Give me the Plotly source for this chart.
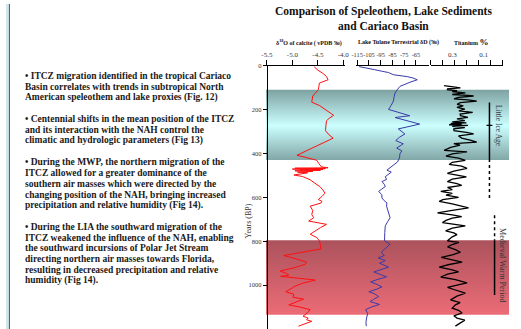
import plotly.graph_objects as go
import numpy as np

W, H = 521, 329
FONT = "Liberation Serif, Times New Roman, serif"

# ---------------- data ----------------
# Speleothem delta18O (calcite, vPDB permil) vs years BP
d18o_years = [5, 20, 35, 49, 64, 79, 95, 109, 125, 138, 152, 166, 181, 200, 215, 226, 240, 251, 270, 296,
              315, 330, 350, 370, 390, 408, 420, 431, 446, 461, 465, 467, 469, 471, 473, 475, 477, 479, 482,
              485, 488, 491, 494, 498, 505, 512, 520, 535, 551, 566, 581, 596, 610, 618, 626, 640, 660, 678,
              693, 708, 716, 723, 738, 755, 768, 783, 798, 815, 835, 850, 865, 872, 880, 895, 905, 920, 936,
              946, 955, 960, 968, 977, 990, 1005, 1020, 1030, 1042, 1055, 1064, 1078, 1090, 1100, 1112, 1125,
              1142, 1150, 1158, 1165, 1175, 1187]
d18o_vals = [-4.57, -4.50, -4.40, -4.33, -4.30, -4.47, -4.48, -4.49, -4.55, -4.60, -4.61, -4.62, -4.47, -4.36,
             -4.26, -4.19, -4.28, -4.33, -4.34, -4.35, -4.28, -4.20, -4.38, -4.57, -4.75, -4.91, -4.70, -4.52,
             -4.48, -4.43, -4.30, -4.95, -4.35, -5.00, -4.40, -4.85, -4.45, -4.95, -4.60, -4.90, -4.70, -4.81,
             -4.95, -4.97, -4.80, -4.72, -4.65, -4.56, -4.46, -4.40, -4.36, -4.42, -4.49, -4.42, -4.44, -4.65,
             -4.60, -4.62, -4.58, -4.68, -4.50, -4.33, -4.45, -4.55, -4.65, -4.52, -4.47, -4.45, -4.44, -4.80,
             -5.17, -5.05, -4.94, -4.72, -4.75, -4.95, -5.24, -5.12, -5.07, -5.23, -4.90, -4.55, -4.78, -4.95,
             -5.05, -5.13, -4.97, -4.99, -4.78, -4.95, -5.07, -4.85, -4.65, -4.70, -4.79, -4.69, -4.72, -4.62,
             -4.75, -4.88]

# Lake Tulane terrestrial deltaD (permil)
dD_years = [4, 11, 18, 25, 31, 41, 46, 50, 56, 64, 75, 94, 110, 124, 140, 161, 180, 199, 228, 236, 266, 288,
            311, 326, 341, 356, 375, 388, 401, 420, 438, 458, 476, 485, 495, 506, 518, 528, 540, 551, 562, 573,
            588, 603, 615, 625, 640, 660, 675, 693, 710, 730, 760, 798, 813, 830, 850, 865, 876, 888, 900, 918,
            930, 940, 952, 962, 975, 985, 997, 1008, 1020, 1030, 1040, 1052, 1065, 1075, 1088, 1100, 1112, 1130,
            1150, 1170, 1187]
dD_vals = [-113.3, -107.8, -100, -94, -88.3, -84.2, -74.4, -72, -67.5, -63.9, -70, -78.6, -81, -82.8, -83.5,
           -84.2, -86, -88.3, -70.3, -82.8, -61.9, -80, -74.4, -79, -82.2, -75.8, -81.4, -77, -78.6, -79, -80.6,
           -85, -89.7, -86, -88, -91.1, -90, -93.9, -92, -91.1, -94, -96.7, -94, -93.9, -92, -89.7, -90, -89,
           -88, -87, -89, -91.1, -91.5, -91.7, -87, -90, -94.4, -92, -97, -91.1, -96, -88.3, -95, -100.8, -95,
           -90, -98, -103.6, -98, -93.9, -99, -105, -100, -96.7, -101, -104, -96, -103, -107.8, -106, -107,
           -107.5, -107.2]

# Cariaco Basin titanium (%)
ti_years = [91, 96, 101, 105, 109, 114, 118, 124, 128, 131, 135, 138, 144, 151, 156, 161, 168, 176, 183, 190,
            198, 206, 213, 220, 228, 235, 242, 250, 256, 260, 263, 266, 269, 272, 276, 282, 288, 296, 304, 311,
            320, 330, 340, 348, 355, 362, 372, 386, 393, 402, 412, 421, 431, 440, 450, 458, 468, 480, 491, 500,
            507, 517, 528, 537, 545, 555, 565, 573, 582, 590, 600, 610, 618, 630, 640, 648, 660, 671, 680, 688,
            695, 705, 715, 722, 730, 740, 753, 762, 770, 780, 790, 798, 805, 815, 826, 838, 850, 862, 873, 884,
            895, 906, 918, 930, 940, 950, 963, 975, 990, 1000, 1010, 1020, 1030, 1037, 1050, 1067, 1080, 1090,
            1105, 1115, 1127, 1140, 1150, 1160, 1172, 1187]
ti_vals = [0.352, 0.30, 0.248, 0.33, 0.331, 0.27, 0.30, 0.217, 0.29, 0.30, 0.20, 0.164, 0.26, 0.289, 0.20,
           0.144, 0.25, 0.269, 0.23, 0.27, 0.22, 0.258, 0.17, 0.25, 0.248, 0.20, 0.27, 0.22, 0.30, 0.21, 0.31,
           0.24, 0.32, 0.20, 0.30, 0.22, 0.29, 0.289, 0.21, 0.164, 0.26, 0.24, 0.18, 0.144, 0.29, 0.25, 0.31,
           0.352, 0.206, 0.30, 0.34, 0.26, 0.217, 0.30, 0.32, 0.24, 0.206, 0.29, 0.331, 0.26, 0.21, 0.30, 0.331,
           0.27, 0.24, 0.33, 0.30, 0.373, 0.30, 0.34, 0.26, 0.36, 0.383, 0.30, 0.25, 0.196, 0.31, 0.394, 0.30,
           0.24, 0.30, 0.34, 0.3625, 0.28, 0.217, 0.30, 0.342, 0.29, 0.27, 0.30, 0.32, 0.331, 0.258, 0.30, 0.33,
           0.28, 0.248, 0.30, 0.37, 0.30, 0.2375, 0.32, 0.383, 0.30, 0.26, 0.33, 0.373, 0.28, 0.206, 0.27, 0.33,
           0.29, 0.24, 0.217, 0.27, 0.311, 0.25, 0.28, 0.30, 0.26, 0.2375, 0.29, 0.27, 0.22, 0.248, 0.28]

# climate periods (years BP)
lia_band = [110, 430]
mwp_band = [795, 1135]
lia_marker = {"solid": [168, 425], "dotted": [425, 604], "tick": 272}
mwp_marker = {"dotted": [681, 798], "solid": [798, 1045]}

year_ticks = [0, 200, 400, 600, 800, 1000, 1200]
d18o_ticks = [-5.5, -5.0, -4.5, -4.0]
d18o_labels = ["-5.5", "-5.0", "-4.5", "-4.0"]
dD_ticks = [-115, -105, -95, -85, -75, -65]
dD_labels = ["-115", "-105", "-95", "-85", "-75", "-65"]
ti_ticks = [0.3, 0.1]
ti_labels = ["0.3", "0.1"]

text_paras = [
    ["• ITCZ migration identified in the tropical Cariaco",
     "Basin correlates with trends in subtropical North",
     "American speleothem and lake proxies (Fig. 12)"],
    ["• Centennial shifts in the mean position of the ITCZ",
     "and its interaction with the NAH control the",
     "climatic and hydrologic parameters (Fig 13)"],
    ["• During the MWP, the northern migration of the",
     "ITCZ allowed for a greater dominance of the",
     "southern air masses which were directed by the",
     "changing position of the NAH, bringing increased",
     "precipitation and relative humidity (Fig 14)."],
    ["• During the LIA the southward migration of the",
     "ITCZ weakened the influence of the NAH, enabling",
     "the southward incursions of Polar Jet Stream",
     "directing northern air masses towards Florida,",
     "resulting in decreased precipitation and relative",
     "humidity (Fig 14)."],
]

# ---------------- layout helpers ----------------
def px(x):
    return x / W

def py(y):
    return 1 - y / H

TOP = 62.5
fig = go.Figure()

# bands (first subplot so they sit under the curves)
def band(b, cs):
    fig.add_trace(go.Scatter(
        x=[0, 1, 1, 0, 0], y=[b[0], b[0], b[1], b[1], b[0]], xaxis="x", yaxis="y",
        mode="lines", line=dict(width=0), fill="toself",
        fillgradient=dict(type="vertical", colorscale=cs, start=b[0], stop=b[1]),
        hoverinfo="skip", showlegend=False))

band(lia_band, [[0, "#7fa3a3"], [0.5, "#ccffff"], [1, "#7fa3a3"]])
band(mwp_band, [[0, "#ad535d"], [1, "#ee6d78"]])

# period markers
LIA_X, MWP_X = 0.919, 0.94
def vseg(xv, seg, dash, width):
    fig.add_trace(go.Scatter(x=[xv, xv], y=seg, xaxis="x", yaxis="y", mode="lines",
                             line=dict(color="black", width=width, dash=dash),
                             hoverinfo="skip", showlegend=False))

vseg(LIA_X, lia_marker["solid"], "solid", 1.5)
vseg(LIA_X, lia_marker["dotted"], "dot", 1.5)
fig.add_trace(go.Scatter(x=[LIA_X - 0.012, LIA_X + 0.012], y=[lia_marker["tick"]] * 2, xaxis="x", yaxis="y",
                         mode="lines", line=dict(color="black", width=1.2), hoverinfo="skip", showlegend=False))
vseg(MWP_X, mwp_marker["dotted"], "dot", 1.5)
vseg(MWP_X, mwp_marker["solid"], "solid", 1.5)

# curves
fig.add_trace(go.Scatter(x=d18o_vals, y=d18o_years, xaxis="x2", yaxis="y", mode="lines",
                         line=dict(color="#ff1010", width=1), showlegend=False))
fig.add_trace(go.Scatter(x=dD_vals, y=dD_years, xaxis="x3", yaxis="y", mode="lines",
                         line=dict(color="#3a3aaa", width=1), showlegend=False))
fig.add_trace(go.Scatter(x=ti_vals, y=ti_years, xaxis="x4", yaxis="y", mode="lines",
                         line=dict(color="black", width=1.3), showlegend=False))

tickfont = dict(family=FONT, size=7, color="#333")
common_x = dict(side="top", anchor="y", showline=True, linecolor="black", linewidth=1,
                ticks="outside", ticklen=5, tickcolor="black", showgrid=False, zeroline=False,
                tickangle=0, fixedrange=True)

ti_range = [0.4375, -0.025]
ti_minor = list(np.linspace(ti_range[0] - 0.002, ti_range[1] + 0.002, 7))

fig.update_layout(
    width=W, height=H, autosize=False,
    margin=dict(l=0, r=0, t=0, b=0),
    paper_bgcolor="white", plot_bgcolor="rgba(0,0,0,0)",
    xaxis=dict(domain=[px(265), px(513)], range=[0, 1], visible=False, anchor="y", fixedrange=True),
    xaxis2=dict(domain=[px(266), px(346)], range=[-5.5, -3.96], tickvals=d18o_ticks, ticktext=d18o_labels,
                tickfont=tickfont, **common_x),
    xaxis3=dict(domain=[px(357), px(431)], range=[-115.83, -54.17], tickvals=dD_ticks, ticktext=dD_labels,
                tickfont=dict(family=FONT, size=6.3, color="#333"), **common_x),
    xaxis4=dict(domain=[px(433), px(507)], range=ti_range, tickvals=ti_ticks, ticktext=ti_labels,
                tickfont=tickfont, **{**common_x, "tickcolor": "rgba(0,0,0,0)"},
                minor=dict(tickvals=ti_minor, ticks="outside", ticklen=5, tickcolor="black")),
    yaxis=dict(domain=[0, py(TOP)], range=[1200, 0], anchor="free", position=px(266),
               showline=True, linecolor="black", linewidth=1, ticks="outside", ticklen=4,
               tickcolor="black", tickvals=year_ticks, showgrid=False, zeroline=False,
               tickfont=dict(family=FONT, size=6.5, color="#333"), fixedrange=True),
    showlegend=False,
)

ann = []
def add_text(text, x, y, size, bold=False, xanchor="center", angle=0, color="#111", xref="paper", yref="paper"):
    ann.append(dict(text=f"<b>{text}</b>" if bold else text, x=x, y=y, xref=xref, yref=yref,
                    xanchor=xanchor, yanchor="middle", showarrow=False, textangle=angle,
                    font=dict(family=FONT, size=size, color=color)))

# title
add_text("Comparison of Speleothem, Lake Sediments", px(385), py(8), 11.5, bold=True)
add_text("and Cariaco Basin", px(385), py(22), 11.5, bold=True)

# axis titles
add_text("δ<sup>18</sup>O of calcite ( vPDB ‰)", px(309), py(39), 6, bold=True)
add_text("Lake Tulane Terrestrial δD (‰)", px(400), py(39), 6, bold=True)
add_text("Titanium <span style='font-size:9px'>%</span>", px(474), py(38), 6, bold=True)
add_text("Years (BP)", px(247), py(220), 8, angle=-90, color="#333")

# period labels
add_text("Little Ice Age", px(502), 276, 7.5, angle=90, color="#333", yref="y")
add_text("Medieval Warm Period", px(506), 910, 8, angle=90, color="#333", yref="y")

# left text block
LINE = 10.9
y0 = 73
idx = 0
for p in text_paras:
    for line in p:
        add_text(line, px(17), py(y0 + idx * LINE), 9.5, bold=True, xanchor="left", color="#1a1a1a")
        idx += 1
    idx += 1

fig.update_layout(annotations=ann)

# left border decoration
fig.update_layout(shapes=[
    dict(type="rect", xref="paper", yref="paper", x0=0, x1=px(3), y0=0, y1=1,
         fillcolor="#cfe6ea", line=dict(width=0), layer="below"),
    dict(type="line", xref="paper", yref="paper", x0=px(3.5), x1=px(3.5), y0=0, y1=1,
         line=dict(color="#555", width=1), layer="below"),
])

fig.write_html("out.html", config={"displayModeBar": False},
               post_script="document.body.style.margin='0';document.body.style.padding='0';"
                           "document.body.style.overflow='hidden';")
